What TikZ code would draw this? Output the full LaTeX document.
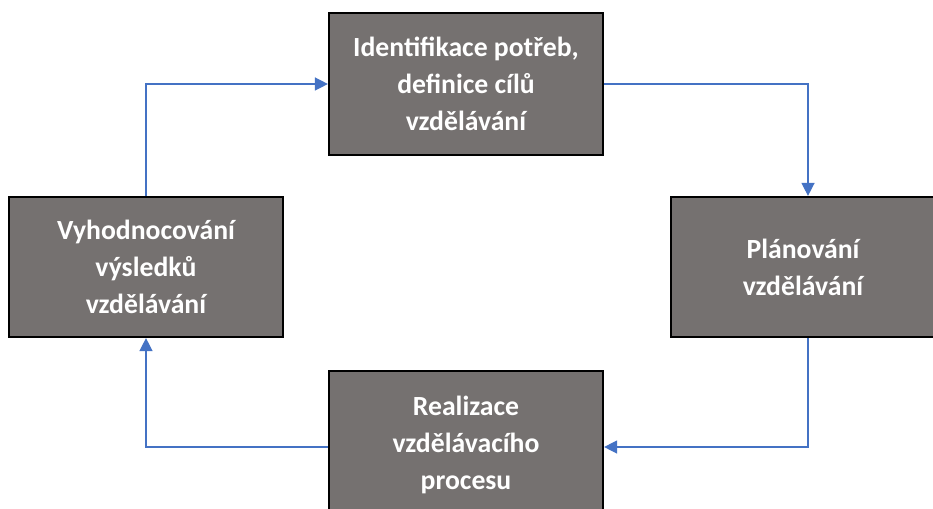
\documentclass[tikz,border=0pt]{standalone}
\usepackage{fontspec}
\setmainfont{Carlito}
\usetikzlibrary{arrows.meta}
\definecolor{boxgray}{RGB}{117,113,112}
\definecolor{flowblue}{RGB}{68,114,196}
\tikzset{
  stage/.style={draw=black, line width=2.2pt, fill=boxgray, text=white,
    font=\fontsize{27.7}{37}\selectfont\bfseries, align=center,
    minimum width=274pt, inner sep=0pt},
  flow/.style={draw=flowblue, line width=1.4pt,
    -{Triangle[length=13pt,width=13pt]}}
}
\begin{document}
\begin{tikzpicture}[x=1pt,y=-1pt]
  \useasboundingbox (0,0) rectangle (933,508);
  \clip (0,0) rectangle (933,508);
  \fill[white] (0,0) rectangle (933,508);
  \node[stage, minimum height=142pt] (ident) at (466,84)
    {Identifikace potřeb,\\definice cílů\\vzdělávání};
  \node[stage, minimum width=264pt, minimum height=140pt] (plan) at (803,267)
    {Plánování\\vzdělávání};
  \node[stage, minimum height=148pt] (real) at (466,445)
    {Realizace\\vzdělávacího\\procesu};
  \node[stage, minimum height=140pt] (eval) at (146,267)
    {Vyhodnocování\\výsledků\\vzdělávání};
  \draw[flow] (ident.east) -| ([xshift=5pt]plan.north);
  \draw[flow] ([xshift=5pt]plan.south) |- ([yshift=-2pt]real.east);
  \draw[flow] ([yshift=-2pt]real.west) -| (eval.south);
  \draw[flow] (eval.north) |- (ident.west);
\end{tikzpicture}
\end{document}
